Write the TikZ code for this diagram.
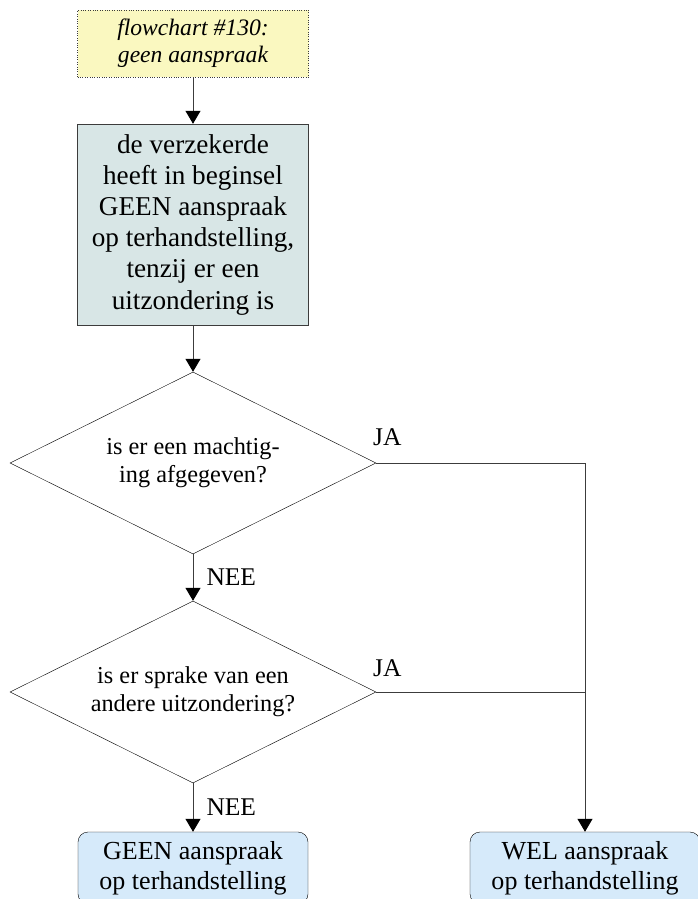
\documentclass[tikz,border=0pt]{standalone}
\usepackage{fontspec}
\setmainfont{Liberation Serif}
\usetikzlibrary{arrows.meta,shapes.geometric}
\definecolor{notefill}{RGB}{250,248,192}
\definecolor{stmtfill}{RGB}{216,230,230}
\definecolor{endfill}{RGB}{214,234,250}
\definecolor{edgegray}{RGB}{60,60,60}
\tikzset{
  note/.style={draw=edgegray, dotted, fill=notefill, minimum width=231pt, minimum height=67pt,
    align=center, font=\fontsize{23.6}{27}\selectfont\itshape, inner sep=0pt},
  stmt/.style={draw=edgegray, fill=stmtfill, minimum width=231pt, minimum height=201pt,
    align=center, font=\fontsize{27.2}{31.2}\selectfont, inner sep=0pt},
  question/.style={draw=black, diamond, aspect=2, minimum width=366pt, minimum height=182pt,
    align=center, font=\fontsize{24.3}{28}\selectfont, inner sep=0pt},
  outcome/.style={draw=black, fill=endfill, rounded corners=10pt, minimum width=230pt,
    minimum height=72pt, align=center, font=\fontsize{26}{30}\selectfont, inner sep=0pt},
  flow/.style={draw=edgegray, line width=1pt, -{Triangle[width=15pt,length=13pt,color=black]}},
  plain/.style={draw=edgegray, line width=1pt},
  lbl/.style={font=\fontsize{25.5}{28}\selectfont, inner sep=0pt}
}
\begin{document}
\begin{tikzpicture}[x=1pt,y=-1pt]
  \useasboundingbox (0,0) rectangle (698,899);
  \clip (0,0) rectangle (698,899);

  \node[note] (title) at (193,43.5) {flowchart \#130:\\geen aanspraak};
  \node[stmt] (base) at (193,224.5) {de verzekerde\\heeft in beginsel\\GEEN aanspraak\\op terhandstelling,\\tenzij er een\\uitzondering is};
  \node[question] (q1) at (193,463) {is er een machtig-\\ing afgegeven?};
  \node[question] (q2) at (193,692) {is er sprake van een\\andere uitzondering?};
  \node[outcome] (no) at (193,868) {GEEN aanspraak\\op terhandstelling};
  \node[outcome] (yes) at (585,868) {WEL aanspraak\\op terhandstelling};

  \coordinate (turn) at (585,463);
  \coordinate (join) at (585,692);

  \draw[flow] (title) -- (base);
  \draw[flow] (base) -- (q1);
  \draw[flow] (q1) -- node[lbl, right=13pt] {NEE} (q2);
  \draw[flow] (q2) -- node[lbl, right=13pt, pos=0.5] {NEE} (no);
  \draw[plain] (q1.east) -- (turn);
  \draw[plain] (q2.east) -- (join);
  \draw[flow] (turn) -- (yes.north -| turn);

  \node[lbl, anchor=south west] (ja1) at (373,446) {JA};
  \node[lbl, anchor=south west] (ja2) at (373,677) {JA};
\end{tikzpicture}
\end{document}
